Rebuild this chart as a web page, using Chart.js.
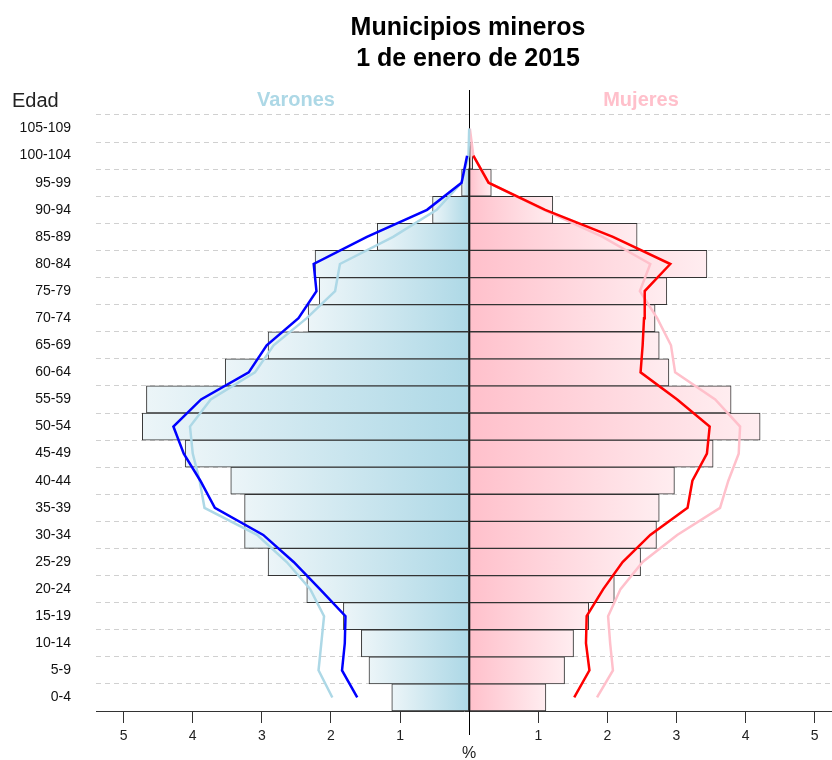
<!DOCTYPE html>
<html>
<head>
<meta charset="utf-8">
<script src="https://cdn.jsdelivr.net/npm/chart.js@4/dist/chart.umd.min.js"></script>
<style>
  html, body { margin: 0; padding: 0; background: #fff; overflow: hidden; }
  #wrap { width: 832px; height: 760px; }
</style>
</head>
<body>
<div id="wrap"><canvas id="pyr" width="832" height="760"></canvas></div>
<script>
// ---- data (bottom row first) ----
const ageGroups = ['0-4', '5-9', '10-14', '15-19', '20-24', '25-29', '30-34', '35-39', '40-44', '45-49',
  '50-54', '55-59', '60-64', '65-69', '70-74', '75-79', '80-84', '85-89', '90-94', '95-99', '100-104', '105-109'];

// % of population, municipios mineros 2015
const varones = [1.12, 1.45, 1.56, 1.82, 2.35, 2.91, 3.25, 3.25, 3.45, 4.11,
  4.73, 4.67, 3.53, 2.91, 2.33, 2.17, 2.23, 1.33, 0.53, 0.11, 0.01, 0];
const mujeres = [1.11, 1.38, 1.51, 1.73, 2.10, 2.48, 2.71, 2.75, 2.97, 3.53,
  4.21, 3.79, 2.89, 2.75, 2.69, 2.86, 3.44, 2.43, 1.21, 0.32, 0.05, 0];

// comparison profiles drawn as lines
const varonesLinea = [1.62, 1.84, 1.80, 1.79, 2.16, 2.54, 2.98, 3.68, 3.89, 4.13,
  4.28, 3.88, 3.19, 2.93, 2.47, 2.21, 2.25, 1.48, 0.61, 0.11, 0.03, null];
const varonesLinea2 = [1.98, 2.18, 2.14, 2.10, 2.30, 2.64, 3.07, 3.83, 3.90, 4.00,
  4.04, 3.74, 3.10, 2.83, 2.35, 1.94, 1.87, 1.10, 0.47, 0.11, 0.01, 0];
const mujeresLinea = [1.52, 1.74, 1.69, 1.70, 1.94, 2.22, 2.62, 3.16, 3.23, 3.44,
  3.48, 3.01, 2.48, 2.51, 2.53, 2.54, 2.91, 2.08, 1.10, 0.28, 0.06, null];
const mujeresLinea2 = [1.85, 2.08, 2.04, 2.01, 2.19, 2.51, 3.01, 3.63, 3.75, 3.90,
  3.92, 3.56, 2.98, 2.92, 2.72, 2.47, 2.62, 1.93, 1.08, 0.28, 0.06, 0.01];

const xTicks = [-5, -4, -3, -2, -1, 0, 1, 2, 3, 4, 5];

const FONT = "'Liberation Sans', Arial, Helvetica, sans-serif";
const neg = arr => arr.map(v => v === null ? null : -v);

// per-bar horizontal gradient: pale at the outer end, full colour at the centre
function barGradient(c, outer, inner) {
  const chart = c.chart;
  const { ctx, chartArea, scales } = chart;
  if (!chartArea || c.raw === undefined || !scales.x) return inner;
  const x0 = scales.x.getPixelForValue(0);
  const x1 = scales.x.getPixelForValue(c.raw);
  if (!isFinite(x0) || !isFinite(x1) || Math.abs(x1 - x0) < 0.5) return inner;
  const g = ctx.createLinearGradient(x1, 0, x0, 0);
  g.addColorStop(0, outer);
  g.addColorStop(1, inner);
  return g;
}

const lineDs = (data, color, order) => ({
  type: 'line',
  data,
  borderColor: color,
  backgroundColor: color,
  borderWidth: 2.5,
  pointRadius: 0,
  tension: 0,
  spanGaps: false,
  order,
});

// title, side headers, centre line, % label
const decorations = {
  id: 'decorations',
  beforeDatasetsDraw(chart) {
    const { ctx, scales } = chart;
    const x0 = Math.round(scales.x.getPixelForValue(0)) + 0.5;
    ctx.save();
    ctx.strokeStyle = '#000';
    ctx.lineWidth = 1;
    ctx.beginPath();
    ctx.moveTo(x0, 90);
    ctx.lineTo(x0, 735);
    ctx.stroke();
    ctx.restore();
  },
  afterDraw(chart) {
    const { ctx, scales } = chart;
    const xc = scales.x.getPixelForValue(0);
    ctx.save();
    ctx.fillStyle = '#000';
    ctx.textAlign = 'center';
    ctx.textBaseline = 'alphabetic';
    ctx.font = 'bold 25px ' + FONT;
    ctx.fillText('Municipios mineros', 468, 35);
    ctx.fillText('1 de enero de 2015', 468, 66);

    ctx.font = 'bold 20px ' + FONT;
    ctx.fillStyle = '#add8e6';
    ctx.fillText('Varones', 296, 106);
    ctx.fillStyle = '#ffc0cb';
    ctx.fillText('Mujeres', 641, 106);

    ctx.textAlign = 'left';
    ctx.fillStyle = '#222';
    ctx.font = '20px ' + FONT;
    ctx.fillText('Edad', 12, 107);

    ctx.textAlign = 'center';
    ctx.font = '16px ' + FONT;
    ctx.fillText('%', xc, 758);
    ctx.restore();
  }
};

new Chart(document.getElementById('pyr').getContext('2d'), {
  data: {
    labels: ageGroups,
    datasets: [
      {
        type: 'bar',
        label: 'Varones',
        data: neg(varones),
        backgroundColor: (c) => barGradient(c, '#ecf5f8', '#add8e6'),
        borderColor: '#333',
        borderWidth: 1,
        borderSkipped: false,
        barPercentage: 1,
        categoryPercentage: 1,
        grouped: false,
        order: 3,
      },
      {
        type: 'bar',
        label: 'Mujeres',
        data: mujeres,
        backgroundColor: (c) => barGradient(c, '#ffedf0', '#ffc0cb'),
        borderColor: '#333',
        borderWidth: 1,
        borderSkipped: false,
        barPercentage: 1,
        categoryPercentage: 1,
        grouped: false,
        order: 3,
      },
      lineDs(neg(varonesLinea2), '#add8e6', 2),
      lineDs(mujeresLinea2, '#ffc0cb', 2),
      lineDs(neg(varonesLinea), '#0000ff', 1),
      lineDs(mujeresLinea, '#ff0000', 1),
    ]
  },
  options: {
    indexAxis: 'y',
    responsive: false,
    animation: false,
    layout: { padding: { top: 115, left: 0, right: 0, bottom: 0 } },
    plugins: {
      legend: { display: false },
      tooltip: { enabled: false },
      title: { display: false },
    },
    scales: {
      x: {
        type: 'linear',
        min: -5.4,
        max: 5.25,
        afterBuildTicks: (s) => { s.ticks = xTicks.map(v => ({ value: v })); },
        afterFit: (s) => { s.height = 49; },
        border: { display: true, color: '#333', width: 1 },
        grid: {
          drawOnChartArea: false,
          drawTicks: true,
          tickLength: 12,
          color: (c) => (c.tick && c.tick.value === 0) ? 'rgba(0,0,0,0)' : '#333',
        },
        ticks: {
          color: '#222',
          padding: 5,
          maxRotation: 0,
          font: { family: FONT, size: 14 },
          callback: (v) => v === 0 ? '' : Math.abs(v),
        },
      },
      y: {
        type: 'category',
        reverse: true,
        offset: true,
        afterFit: (s) => { s.width = 96; },
        grid: {
          offset: true,
          drawTicks: false,
          color: '#d0d0d0',
          lineWidth: 1,
        },
        // v4 puts the grid dash on the border options
        border: { display: false, dash: [5, 4] },
        ticks: {
          color: '#111',
          padding: 25,
          autoSkip: false,
          font: { family: FONT, size: 14 },
        },
      },
    },
  },
  plugins: [decorations],
});
</script>
</body>
</html>
